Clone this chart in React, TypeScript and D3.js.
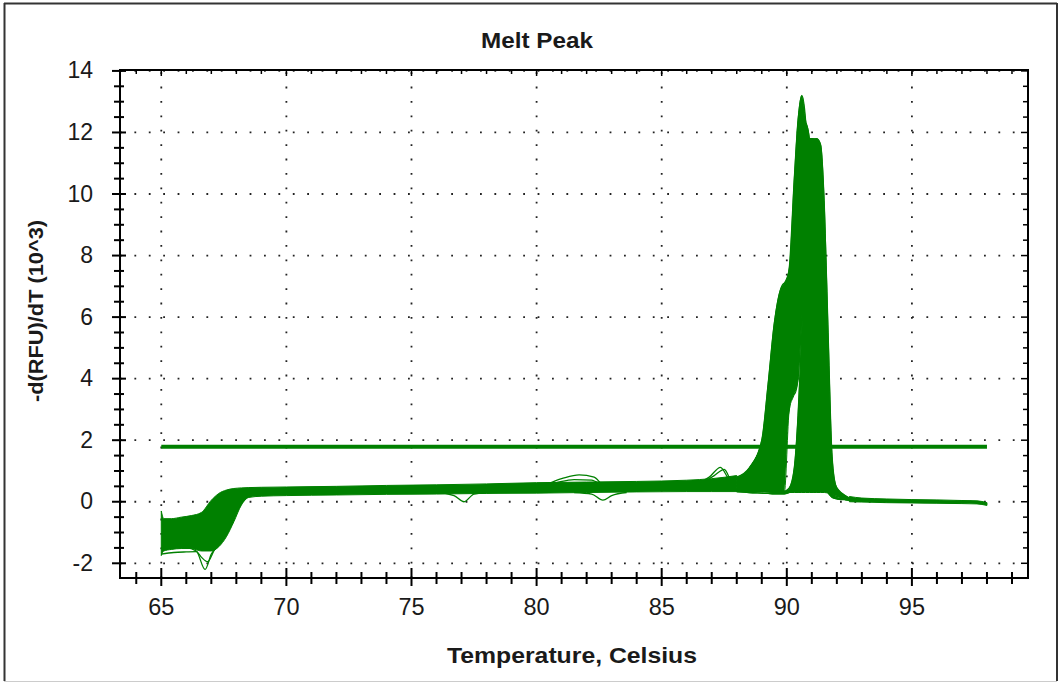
import React from 'react';
import * as d3 from 'd3';

const W = 1062;
const H = 683;
const PLOT = { left: 120, top: 70, right: 1028, bottom: 578 };

const xTickValues = [65, 70, 75, 80, 85, 90, 95];
const yTickValues = [-2, 0, 2, 4, 6, 8, 10, 12, 14];
const xDomain = [63.35, 99.64];
const yDomain = [-2.478, 14.03];
const titleText = 'Melt Peak';
const xLabel = 'Temperature, Celsius';
const yLabel = '-d(RFU)/dT (10^3)';

const thresholdValue = 1.79;
const thresholdFrom = 65;
const thresholdTo = 98;

// Dense baseline band (bulk of all wells), 65 - 88 C
const bandTemps = [65, 65.1, 65.4, 65.8, 66.2, 66.6, 67.0, 67.3, 67.6, 67.9, 68.2, 68.5, 69, 70, 72, 74, 76, 78, 80, 82, 84, 86, 87, 88];
const bandHigh = [-0.3, -0.55, -0.55, -0.5, -0.45, -0.35, 0.05, 0.27, 0.38, 0.43, 0.45, 0.46, 0.47, 0.48, 0.5, 0.53, 0.55, 0.58, 0.62, 0.64, 0.66, 0.7, 0.75, 0.85];
const bandLow = [-1.75, -1.6, -1.55, -1.52, -1.52, -1.6, -1.6, -1.46, -1.14, -0.65, -0.11, 0.14, 0.18, 0.2, 0.22, 0.24, 0.25, 0.27, 0.28, 0.3, 0.32, 0.33, 0.33, 0.33];

// Tail band after the melt, 92.5 - 98 C
const tailTemps = [92.5, 93, 94, 95, 96, 97, 97.6, 98];
const tailHigh = [0.17, 0.12, 0.09, 0.07, 0.06, 0.04, 0.03, -0.03];
const tailLow = [0.0, -0.01, -0.03, -0.04, -0.05, -0.06, -0.07, -0.12];

// Melt peak region
const peakTemps = [88, 88.5, 89, 89.25, 89.5, 89.75, 89.9, 90.1, 90.3, 90.45, 90.6, 90.75, 90.9, 91.05, 91.2, 91.35, 91.5, 91.65, 91.8, 91.95, 92.1, 92.3, 92.5];
// lower edge of the filled area under the peaks
const peakFloor = [0.33, 0.33, 0.33, 0.32, 0.3, 0.3, 0.3, 0.3, 0.3, 0.3, 0.3, 0.3, 0.3, 0.3, 0.3, 0.3, 0.3, 0.28, 0.25, 0.2, 0.15, 0.1, 0.05];
// early-melting wells
const early1 = [0.6, 0.9, 1.4, 2.2, 3.8, 5.8, 6.8, 7.6, 10.5, 12.4, 13.2, 12.4, 10.0, 7.0, 4.2, 2.0, 0.9, 0.4, 0.2, 0.12, 0.1, 0.08, 0.06];
const early2 = [0.5, 0.8, 1.2, 1.7, 2.8, 4.2, 5.3, 7.0, 9.6, 11.5, 12.2, 12.3, 11.8, 8.5, 5.0, 2.6, 1.1, 0.5, 0.25, 0.15, 0.1, 0.08, 0.06];
const early3 = [0.8, 1.1, 2.0, 3.8, 5.8, 6.9, 7.1, 7.0, 8.5, 10.5, 11.5, 11.3, 9.5, 6.5, 3.5, 1.6, 0.7, 0.3, 0.15, 0.1, 0.08, 0.07, 0.06];
const early4 = [0.5, 0.6, 0.8, 1.0, 1.3, 1.8, 2.4, 3.0, 8.0, 10.5, 12.0, 11.8, 10.5, 8.0, 5.0, 2.5, 1.0, 0.4, 0.2, 0.12, 0.1, 0.08, 0.06];
const early5 = [0.5, 0.7, 1.0, 1.4, 2.2, 3.0, 3.5, 4.0, 3.5, 4.0, 6.0, 7.5, 7.0, 5.5, 3.5, 1.8, 0.8, 0.35, 0.2, 0.12, 0.1, 0.08, 0.06];
// main group wells
const main1 = [0.4, 0.4, 0.38, 0.36, 0.35, 0.34, 0.33, 0.35, 0.5, 1.0, 2.2, 5.0, 8.5, 11.6, 11.8, 11.6, 9.6, 5.5, 1.6, 0.55, 0.35, 0.22, 0.12];
const main2 = [0.4, 0.4, 0.38, 0.36, 0.35, 0.34, 0.34, 0.45, 1.1, 2.8, 5.5, 8.5, 11.8, 11.8, 11.0, 9.5, 6.5, 3.0, 0.9, 0.4, 0.28, 0.18, 0.1];
const main3 = [0.35, 0.35, 0.33, 0.32, 0.3, 0.3, 0.3, 0.35, 0.7, 1.5, 3.5, 6.5, 9.0, 10.5, 10.0, 8.0, 5.0, 2.0, 0.7, 0.35, 0.25, 0.15, 0.1];
const main4 = [0.33, 0.3, 0.28, 0.27, 0.26, 0.26, 0.26, 0.3, 0.5, 1.0, 2.5, 5.0, 7.5, 8.5, 7.5, 5.5, 3.0, 1.2, 0.5, 0.3, 0.2, 0.12, 0.08];
const main5 = [0.33, 0.3, 0.28, 0.27, 0.26, 0.26, 0.26, 0.3, 0.4, 0.8, 1.5, 3.5, 5.0, 4.5, 3.0, 1.5, 0.7, 0.4, 0.25, 0.18, 0.15, 0.1, 0.07];

const earlyGroup = [early1, early2, early3, early4, early5];
const mainGroup = [main1, main2, main3, main4, main5];
// up to this temperature the early wells are still crowded down to the baseline
const earlyFilledUntil = 89.9;

// Individual outlier wells
const dipTempsA = [65, 65.5, 66, 66.4, 66.75, 67.0, 67.3, 67.7, 68.1, 68.5, 69];
const dipValsA = [-1.5, -1.5, -1.5, -1.6, -2.2, -1.7, -1.4, -0.9, -0.2, 0.2, 0.25];
const dipTempsB = [65, 65.5, 66, 66.4, 66.6, 66.85, 67.1, 67.4, 67.8, 68.2, 68.6, 69];
const dipValsB = [-1.7, -1.65, -1.63, -1.62, -1.8, -1.95, -1.6, -1.2, -0.6, 0.0, 0.25, 0.3];
const dip77Temps = [74, 76, 76.7, 77.1, 77.5, 78.5];
const dip77Vals = [0.3, 0.3, 0.2, 0.0, 0.25, 0.32];
const bump82Temps = [79, 80.1, 81, 81.7, 82.3, 82.65, 83.2, 84];
const bump82Vals = [0.45, 0.5, 0.75, 0.87, 0.8, 0.55, 0.45, 0.45];
const bump82bTemps = [80, 80.8, 81.5, 82.2, 82.7, 83.5];
const bump82bVals = [0.45, 0.62, 0.72, 0.7, 0.5, 0.45];
const dip83Temps = [81.5, 82.2, 82.65, 83.0, 83.6];
const dip83Vals = [0.3, 0.25, 0.05, 0.2, 0.3];
const bump87Temps = [86.3, 86.9, 87.35, 87.75, 88.2, 88.6, 89.0, 89.3];
const bump87Vals = [0.55, 0.8, 1.12, 0.7, 0.8, 1.2, 1.8, 2.6];
const bump87bTemps = [86.5, 87.1, 87.5, 87.85, 88.3, 88.7, 89.1];
const bump87bVals = [0.55, 0.85, 1.05, 0.6, 0.8, 1.3, 2.0];

const outliers: [number[], number[]][] = [
  [dipTempsA, dipValsA],
  [dipTempsB, dipValsB],
  [dip77Temps, dip77Vals],
  [bump82Temps, bump82Vals],
  [bump82bTemps, bump82bVals],
  [dip83Temps, dip83Vals],
  [bump87Temps, bump87Vals],
  [bump87bTemps, bump87bVals],
];

const GREEN = '#008000';
const FONT = '"Liberation Sans", Arial, Helvetica, sans-serif';
const TEXT = '#1a1a1a';

type BandPt = { t: number; lo: number; hi: number };

export default function App() {
  const x = d3.scaleLinear().domain(xDomain).range([PLOT.left, PLOT.right]);
  const y = d3.scaleLinear().domain(yDomain).range([PLOT.bottom, PLOT.top]);

  const area = d3
    .area<BandPt>()
    .x((d) => x(d.t))
    .y0((d) => y(d.lo))
    .y1((d) => y(d.hi))
    .curve(d3.curveMonotoneX);

  const line = d3
    .line<[number, number]>()
    .x((d) => x(d[0]))
    .y((d) => y(d[1]))
    .curve(d3.curveMonotoneX);

  const bandPts: BandPt[] = bandTemps.map((t, i) => ({ t, lo: bandLow[i], hi: bandHigh[i] }));
  const tailPts: BandPt[] = tailTemps.map((t, i) => ({ t, lo: tailLow[i], hi: tailHigh[i] }));
  const earlyPts: BandPt[] = peakTemps.map((t, i) => ({
    t,
    lo: t <= earlyFilledUntil ? peakFloor[i] : (d3.min(earlyGroup, (c) => c[i]) as number),
    hi: d3.max(earlyGroup, (c) => c[i]) as number,
  }));
  const mainPts: BandPt[] = peakTemps.map((t, i) => ({
    t,
    lo: peakFloor[i],
    hi: d3.max(mainGroup, (c) => c[i]) as number,
  }));

  const xMinor = d3.range(64, 100, 1);
  const yMinor = d3.range(-2, 14.01, 0.5);

  const gridDash = '1.8 12.6';

  return (
    <svg
      width={W}
      height={H}
      style={{ position: 'absolute', left: 0, top: 0, background: '#fff' }}
      fontFamily={FONT}
    >
      <defs>
        <clipPath id="plotClip">
          <rect x={PLOT.left} y={PLOT.top} width={PLOT.right - PLOT.left} height={PLOT.bottom - PLOT.top} />
        </clipPath>
      </defs>
      <rect x={0} y={0} width={W} height={H} fill="#fff" />
      {/* outer frame */}
      <line x1={4} y1={3.5} x2={1057} y2={3.5} stroke="#333" strokeWidth={2} />
      <line x1={4.5} y1={3} x2={4.5} y2={681} stroke="#333" strokeWidth={2} />
      <line x1={1057} y1={3} x2={1057} y2={681} stroke="#333" strokeWidth={2} />
      <line x1={4} y1={681.5} x2={1057} y2={681.5} stroke="#ccc" strokeWidth={1} />

      {/* title */}
      <text
        x={537}
        y={48}
        textAnchor="middle"
        fontWeight="bold"
        fontSize={22}
        fill={TEXT}
        textLength={112}
        lengthAdjust="spacingAndGlyphs"
      >
        {titleText}
      </text>

      {/* grid */}
      <g>
        {yTickValues.map((v) => (
          <line
            key={'gy' + v}
            x1={PLOT.left}
            x2={PLOT.right}
            y1={y(v)}
            y2={y(v)}
            stroke="#222"
            strokeWidth={1.8}
            strokeDasharray={gridDash}
          />
        ))}
        {xTickValues.map((v) => (
          <line
            key={'gx' + v}
            x1={x(v)}
            x2={x(v)}
            y1={PLOT.bottom}
            y2={PLOT.top}
            stroke="#222"
            strokeWidth={1.8}
            strokeDasharray={gridDash}
          />
        ))}
      </g>

      {/* data */}
      <g clipPath="url(#plotClip)">
        <path d={area(bandPts) || ''} fill={GREEN} stroke={GREEN} strokeWidth={1} />
        <path d={area(tailPts) || ''} fill={GREEN} stroke={GREEN} strokeWidth={1} />
        <path d={area(earlyPts) || ''} fill={GREEN} stroke={GREEN} strokeWidth={1} />
        <path d={area(mainPts) || ''} fill={GREEN} stroke={GREEN} strokeWidth={1} />
        {[...earlyGroup, ...mainGroup].map((c, k) => (
          <path
            key={'c' + k}
            d={line(peakTemps.map((t, i) => [t, c[i]] as [number, number])) || ''}
            fill="none"
            stroke={GREEN}
            strokeWidth={1.3}
          />
        ))}
        {outliers.map(([ts, vs], k) => (
          <path
            key={'o' + k}
            d={line(ts.map((t, i) => [t, vs[i]] as [number, number])) || ''}
            fill="none"
            stroke={GREEN}
            strokeWidth={1.3}
          />
        ))}
        <line
          x1={x(thresholdFrom)}
          x2={x(thresholdTo)}
          y1={y(thresholdValue)}
          y2={y(thresholdValue)}
          stroke={GREEN}
          strokeWidth={4}
        />
      </g>

      {/* frame */}
      <rect
        x={PLOT.left}
        y={PLOT.top}
        width={PLOT.right - PLOT.left}
        height={PLOT.bottom - PLOT.top}
        fill="none"
        stroke="#000"
        strokeWidth={2}
      />

      {/* bottom axis ticks */}
      {xMinor.map((v) => {
        const major = v % 5 === 0;
        return (
          <line
            key={'bx' + v}
            x1={x(v)}
            x2={x(v)}
            y1={major ? 568 : 572}
            y2={major ? 586 : 584}
            stroke="#000"
            strokeWidth={2}
          />
        );
      })}
      {/* top axis ticks */}
      {xMinor.map((v) => {
        const major = v % 5 === 0;
        return (
          <line
            key={'tx' + v}
            x1={x(v)}
            x2={x(v)}
            y1={PLOT.top}
            y2={PLOT.top + (major ? 6 : 4)}
            stroke="#000"
            strokeWidth={1.5}
          />
        );
      })}
      {/* left axis ticks */}
      {yMinor.map((v) => {
        const major = Math.abs(v % 2) < 1e-6;
        return (
          <line
            key={'ly' + v}
            x1={major ? 112 : 114}
            x2={major ? 126 : 124}
            y1={y(v)}
            y2={y(v)}
            stroke="#000"
            strokeWidth={2}
          />
        );
      })}
      {/* right axis ticks */}
      {yMinor.map((v) => {
        const major = Math.abs(v % 2) < 1e-6;
        return (
          <line
            key={'ry' + v}
            x1={PLOT.right - (major ? 7 : 5)}
            x2={PLOT.right}
            y1={y(v)}
            y2={y(v)}
            stroke="#000"
            strokeWidth={1.5}
          />
        );
      })}

      {/* tick labels */}
      {xTickValues.map((v) => (
        <text key={'xl' + v} x={x(v)} y={615} textAnchor="middle" fontSize={23.5} fill={TEXT}>
          {v}
        </text>
      ))}
      {yTickValues.map((v) => (
        <text key={'yl' + v} x={93} y={y(v) + 7.5} textAnchor="end" fontSize={23} fill={TEXT}>
          {v}
        </text>
      ))}

      {/* axis titles */}
      <text
        x={572}
        y={663}
        textAnchor="middle"
        fontWeight="bold"
        fontSize={22}
        fill={TEXT}
        textLength={250}
        lengthAdjust="spacingAndGlyphs"
      >
        {xLabel}
      </text>
      <text
        transform={`translate(43, ${311}) rotate(-90)`}
        textAnchor="middle"
        fontWeight="bold"
        fontSize={20}
        fill={TEXT}
        textLength={182}
        lengthAdjust="spacingAndGlyphs"
      >
        {yLabel}
      </text>
    </svg>
  );
}
